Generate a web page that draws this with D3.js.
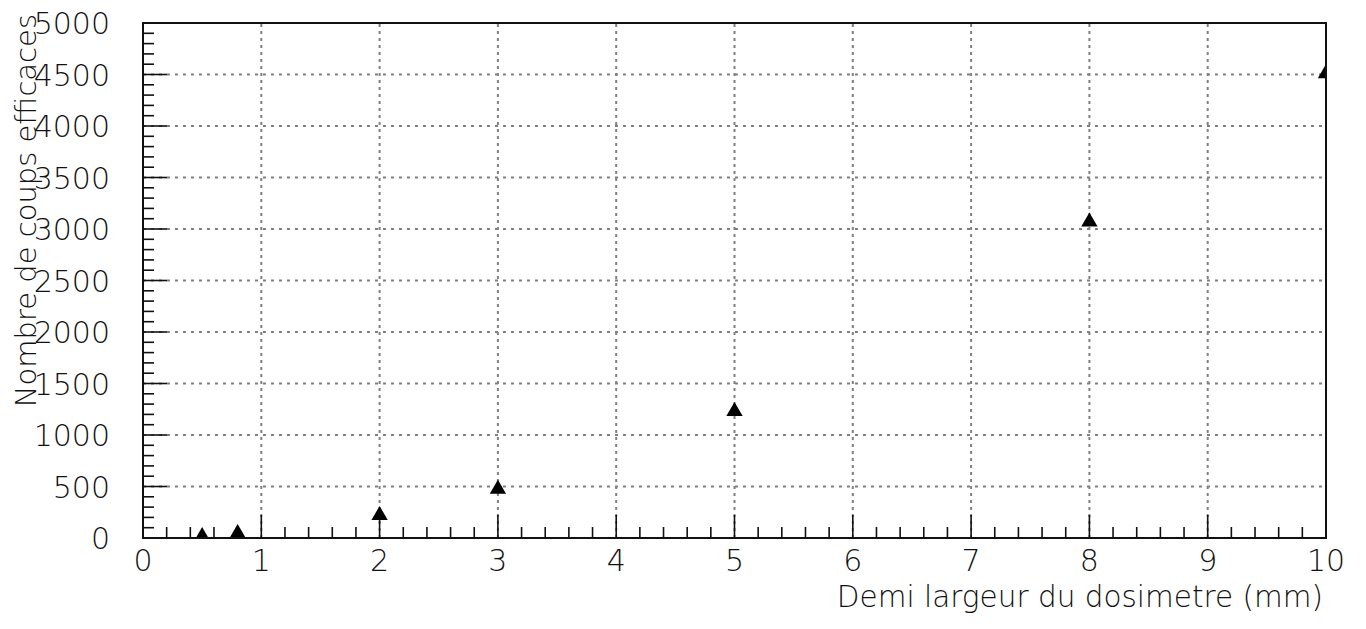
<!DOCTYPE html>
<html>
<head>
<meta charset="utf-8">
<script src="https://cdn.jsdelivr.net/npm/d3@7"></script>
<style>
  html, body { margin: 0; padding: 0; background: #fff; }
  svg { display: block; }
  text { font-family: "DejaVu Sans", sans-serif; font-weight: 200; fill: #111; }
</style>
</head>
<body>
<svg id="chart" width="1366" height="629"></svg>
<script>
// Half-width of the dosimeter (mm) and number of effective hits
const halfWidths = [0.5, 0.8, 2, 3, 5, 8, 10];
const hitCounts = [15, 45, 220, 475, 1230, 3070, 4510];

const xTickValues = [0, 1, 2, 3, 4, 5, 6, 7, 8, 9, 10];
const yTickValues = [0, 500, 1000, 1500, 2000, 2500, 3000, 3500, 4000, 4500, 5000];

const xTitle = "Demi largeur du dosimetre (mm)";
const yTitle = "Nombre de coups efficaces";

const svg = d3.select("#chart");
const frame = { left: 143, right: 1326, top: 23, bottom: 538 };

const x = d3.scaleLinear().domain([0, 10]).range([frame.left, frame.right]);
const y = d3.scaleLinear().domain([0, 5000]).range([frame.bottom, frame.top]);

// dotted grid at the major ticks
const grid = svg.append("g").attr("stroke", "#808080").attr("stroke-width", 2).attr("fill", "none");
grid.selectAll("line.v").data(xTickValues.filter(d => d > 0 && d < 10)).join("line")
  .attr("x1", d => x(d)).attr("x2", d => x(d))
  .attr("y1", frame.bottom).attr("y2", frame.top)
  .attr("stroke-dasharray", "3,4");
grid.selectAll("line.h").data(yTickValues.filter(d => d > 0 && d < 5000)).join("line")
  .attr("x1", frame.left).attr("x2", frame.right)
  .attr("y1", d => y(d)).attr("y2", d => y(d))
  .attr("stroke-dasharray", "3,5");

// minor + major ticks drawn inward from the axes
const xMinor = d3.range(0, 10.0001, 0.2).map(d => +d.toFixed(1));
const yMinor = d3.range(0, 5001, 100);

const ticks = svg.append("g").attr("stroke", "#111").attr("stroke-width", 1.6);
ticks.selectAll("line.xt").data(xMinor).join("line")
  .attr("x1", d => x(d)).attr("x2", d => x(d))
  .attr("y1", frame.bottom)
  .attr("y2", d => frame.bottom - (Math.abs(d - Math.round(d)) < 1e-6 ? 23 : 11));
ticks.selectAll("line.yt").data(yMinor).join("line")
  .attr("y1", d => y(d)).attr("y2", d => y(d))
  .attr("x1", frame.left)
  .attr("x2", d => frame.left + (d % 500 === 0 ? 24 : 11));

// data markers: filled triangles, clipped to the frame
svg.append("clipPath").attr("id", "plotClip").append("rect")
  .attr("x", frame.left).attr("y", frame.top)
  .attr("width", frame.right - frame.left).attr("height", frame.bottom - frame.top);

const tri = d3.symbol().type(d3.symbolTriangle).size(115);
svg.append("g").attr("clip-path", "url(#plotClip)")
  .selectAll("path").data(halfWidths.map((h, i) => [h, hitCounts[i]])).join("path")
  .attr("d", tri)
  .attr("transform", d => `translate(${x(d[0])},${y(d[1])})`)
  .attr("fill", "#000");

// frame
svg.append("rect")
  .attr("x", frame.left).attr("y", frame.top)
  .attr("width", frame.right - frame.left).attr("height", frame.bottom - frame.top)
  .attr("fill", "none").attr("stroke", "#111").attr("stroke-width", 2);

// tick labels
svg.append("g").selectAll("text").data(xTickValues).join("text")
  .attr("x", d => x(d)).attr("y", 571)
  .attr("text-anchor", "middle")
  .attr("font-size", 30)
  .text(d => d);

svg.append("g").selectAll("text").data(yTickValues).join("text")
  .attr("x", 110).attr("y", d => y(d) + 11)
  .attr("text-anchor", "end")
  .attr("font-size", 30)
  .text(d => d);

// axis titles
svg.append("text")
  .attr("x", 1323).attr("y", 607)
  .attr("text-anchor", "end")
  .attr("font-size", 29.5)
  .text(xTitle);

svg.append("text")
  .attr("transform", "translate(36,14) rotate(-90)")
  .attr("text-anchor", "end")
  .attr("font-size", 29)
  .text(yTitle);
</script>
</body>
</html>
